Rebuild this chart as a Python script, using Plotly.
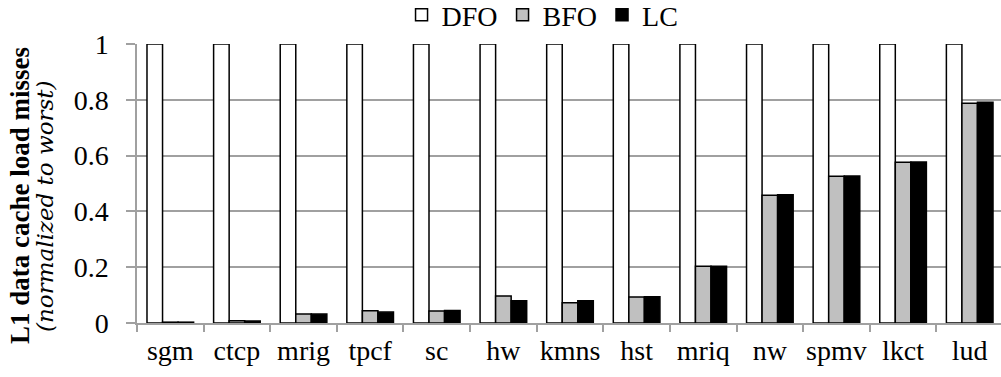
import plotly.graph_objects as go

categories = ["sgm", "ctcp", "mrig", "tpcf", "sc", "hw", "kmns", "hst", "mriq", "nw", "spmv", "lkct", "lud"]
dfo = [1, 1, 1, 1, 1, 1, 1, 1, 1, 1, 1, 1, 1]
bfo = [0.003, 0.008, 0.032, 0.044, 0.043, 0.097, 0.073, 0.093, 0.203, 0.458, 0.526, 0.576, 0.788]
lc = [0.003, 0.007, 0.032, 0.039, 0.045, 0.080, 0.080, 0.094, 0.203, 0.460, 0.527, 0.577, 0.791]
y_ticks = [0, 0.2, 0.4, 0.6, 0.8, 1]
y_ticklabels = ["0", "0.2", "0.4", "0.6", "0.8", "1"]
title_main = "L1 data cache load misses"
title_sub = "(normalized to worst)"

FONT = "Liberation Serif"
line = dict(color="black", width=1.5)

fig = go.Figure()
fig.add_trace(go.Bar(name="DFO", x=categories, y=dfo, marker=dict(color="white", line=line)))
fig.add_trace(go.Bar(name="BFO", x=categories, y=bfo, marker=dict(color="#c0c0c0", line=line)))
fig.add_trace(go.Bar(name="LC", x=categories, y=lc, marker=dict(color="black", line=line)))

fig.update_layout(
    width=1001, height=377,
    margin=dict(l=137, r=0, t=44, b=54, autoexpand=False),
    paper_bgcolor="white", plot_bgcolor="white",
    font=dict(family=FONT, size=28, color="black"),
    barmode="group", bargap=0.3, bargroupgap=0,
    showlegend=True,
    legend=dict(orientation="h", xref="container", x=0.542, xanchor="center",
                yref="paper", y=(323 - 15) / 279, yanchor="middle",
                font=dict(family=FONT, size=28), itemwidth=30, tracegroupgap=0,
                bgcolor="rgba(0,0,0,0)"),
)
fig.update_xaxes(
    type="category", range=[-0.5, 12.47],
    showline=True, linecolor="#a0a0a0", linewidth=1.5,
    ticks="outside", tickson="boundaries", ticklen=7, tickcolor="#a0a0a0", tickwidth=1.5,
    showgrid=False, tickfont=dict(family=FONT, size=28), tickangle=0, fixedrange=True,
    ticklabelstandoff=2,
)
fig.update_yaxes(
    range=[0, 1.0], tickvals=y_ticks, ticktext=y_ticklabels,
    showline=True, linecolor="#a0a0a0", linewidth=1.5,
    showgrid=True, gridcolor="#a0a0a0", gridwidth=1.5,
    ticks="outside", ticklen=9, tickcolor="#a0a0a0", tickwidth=1.5,
    zeroline=False, tickfont=dict(family=FONT, size=28), ticklabelstandoff=12,
)
fig.add_annotation(text="<b>" + title_main + "</b>", textangle=-90, xref="paper", yref="paper",
                   x=(20 - 137) / 864, y=(323 - 196) / 279, xanchor="center", yanchor="middle",
                   showarrow=False, font=dict(family=FONT, size=27))
fig.add_annotation(text="<i>" + title_sub + "</i>", textangle=-90, xref="paper", yref="paper",
                   x=(45 - 137) / 864, y=(323 - 206) / 279, xanchor="center", yanchor="middle",
                   showarrow=False, font=dict(family="DejaVu Serif", size=23, style="italic"))

fig.write_html("out.html")
